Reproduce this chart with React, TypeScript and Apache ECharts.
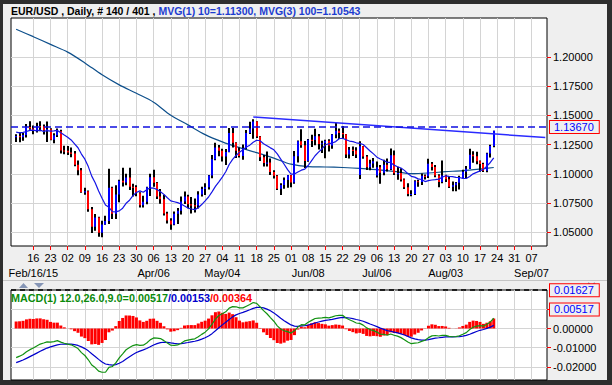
import React, { useEffect, useRef } from 'react';
import * as echarts from 'echarts';

const FONT = '"Liberation Sans", Arial, sans-serif';

// ---- axis labels ----
const weekTickLabels = ['16','23','02','09','16','23','30','06','13','20','27','04','11','18','25','01','08','15','22','29','06','13','20','27','03','10','17','24','31','07'];
const monthLabelWeeks = [0, 7, 11, 16, 20, 24, 29];
const monthLabelTexts = ['Feb/16/15','Apr/06','May/04','Jun/08','Jul/06','Aug/03','Sep/07'];
const priceTicks = [1.05, 1.075, 1.1, 1.125, 1.15, 1.175, 1.2];
const macdTicks = [-0.02, -0.01, 0, 0.01];

// ---- daily EUR/USD bars, Feb 09 → Aug 21 2015 ----
const opens = [
1.1316,1.1322,1.1313,1.1331,1.1400,1.1388,1.1366,1.1409,1.1407,1.1370,1.1381,1.1290,1.1330,1.1363,1.1200,
1.1197,1.1182,1.1174,1.1078,1.1030,1.0843,1.0851,1.0698,1.0548,1.0626,1.0496,1.0566,1.0596,1.0880,1.0659,1.0822,1.0940,1.0926,1.0969,1.0890,1.0887,1.0834,
1.0731,1.0761,1.0885,1.0970,1.0923,1.0805,1.0783,1.0660,1.0600,1.0567,1.0658,1.0685,1.0763,1.0807,1.0740,1.0731,1.0728,1.0824,1.0870,1.0886,1.0985,1.1125,
1.1224,1.1198,1.1147,1.1186,1.1348,1.1265,1.1198,1.1153,1.1218,1.1348,1.1387,1.1447,1.1318,1.1142,1.1092,1.1097,1.1015,1.0983,1.0873,1.0905,1.0947,
1.0987,1.0925,1.1150,1.1279,1.1244,1.1110,1.1290,1.1289,1.1320,1.1254,1.1262,1.1282,1.1242,1.1336,1.1369,1.1349,1.1337,1.1164,1.1205,1.1200,1.0990,1.1235,
1.1147,1.1056,1.1087,1.0985,1.1055,1.1008,1.1077,1.1038,1.1159,1.1004,1.1007,1.0952,1.0886,1.0827,1.0828,1.0937,1.0930,1.0983,1.0980,1.1086,1.1059,1.0985,1.0930,
1.0985,1.0954,1.0890,1.0902,1.0924,1.0967,1.1018,1.1043,1.1162,1.1151,1.1107,1.1084,1.1025,1.1174,1.1237];
const highs = [
1.1337,1.1356,1.1349,1.1425,1.1449,1.1412,1.1437,1.1449,1.1422,1.1448,1.1389,1.1346,1.1387,1.1376,1.1240,
1.1237,1.1225,1.1194,1.1114,1.1050,1.0880,1.0857,1.0717,1.0656,1.0632,1.0598,1.0641,1.1043,1.0889,1.0903,1.0949,1.1052,1.1000,1.1051,1.0916,1.0902,1.0842,
1.0812,1.0890,1.1000,1.1035,1.0930,1.0870,1.0820,1.0675,1.0620,1.0678,1.0707,1.0806,1.0849,1.0820,1.0801,1.0789,1.0850,1.0889,1.0920,1.0990,1.1160,1.1265,
1.1246,1.1214,1.1213,1.1391,1.1392,1.1269,1.1225,1.1250,1.1375,1.1445,1.1467,1.1450,1.1322,1.1160,1.1190,1.1131,1.1030,1.0990,1.0919,1.0968,1.0990,
1.0990,1.1195,1.1285,1.1380,1.1281,1.1297,1.1333,1.1385,1.1340,1.1283,1.1290,1.1295,1.1340,1.1436,1.1388,1.1408,1.1340,1.1228,1.1233,1.1226,1.1278,1.1237,
1.1160,1.1120,1.1134,1.1105,1.1076,1.1120,1.1130,1.1216,1.1200,1.1060,1.1048,1.0960,1.0920,1.0860,1.0945,1.0950,1.1003,1.0995,1.1129,1.1100,1.1075,1.0997,1.1114,
1.0991,1.0980,1.0935,1.0930,1.0983,1.1035,1.1067,1.1214,1.1192,1.1189,1.1114,1.1094,1.1179,1.1248,1.1367];
const lows = [
1.1271,1.1270,1.1282,1.1310,1.1376,1.1338,1.1354,1.1363,1.1336,1.1271,1.1287,1.1262,1.1314,1.1174,1.1168,
1.1161,1.1141,1.1065,1.0988,1.0839,1.0820,1.0675,1.0495,1.0513,1.0462,1.0457,1.0565,1.0571,1.0613,1.0613,1.0756,1.0892,1.0903,1.0861,1.0805,1.0809,1.0712,
1.0713,1.0740,1.0810,1.0890,1.0785,1.0745,1.0643,1.0575,1.0521,1.0560,1.0570,1.0653,1.0741,1.0706,1.0660,1.0670,1.0704,1.0806,1.0818,1.0865,1.0961,1.1116,
1.1150,1.1106,1.1075,1.1185,1.1225,1.1135,1.1139,1.1120,1.1210,1.1340,1.1300,1.1306,1.1110,1.1062,1.1063,1.0990,1.0960,1.0862,1.0818,1.0872,1.0880,
1.0886,1.0915,1.1096,1.1223,1.1049,1.1103,1.1230,1.1245,1.1208,1.1178,1.1133,1.1190,1.1215,1.1304,1.1297,1.1300,1.1134,1.1130,1.1152,1.1134,1.0955,1.1129,
1.1032,1.1030,1.1051,1.0968,1.0915,1.0988,1.1019,1.1032,1.0990,1.0950,1.0935,1.0870,1.0809,1.0808,1.0818,1.0890,1.0905,1.0951,1.0965,1.1029,1.0970,1.0886,1.0919,
1.0930,1.0878,1.0850,1.0850,1.0866,1.0962,1.0963,1.1040,1.1095,1.1081,1.1017,1.1016,1.1014,1.1140,1.1227];
const closes = [
1.1322,1.1313,1.1331,1.1400,1.1388,1.1366,1.1409,1.1407,1.1370,1.1381,1.1290,1.1330,1.1363,1.1200,1.1197,
1.1182,1.1174,1.1078,1.1030,1.0843,1.0851,1.0698,1.0548,1.0626,1.0496,1.0566,1.0596,1.0880,1.0659,1.0822,1.0940,1.0926,1.0969,1.0890,1.0887,1.0834,1.0731,
1.0761,1.0885,1.0970,1.0923,1.0805,1.0783,1.0660,1.0600,1.0567,1.0658,1.0685,1.0763,1.0807,1.0740,1.0731,1.0728,1.0824,1.0870,1.0886,1.0985,1.1125,1.1224,
1.1198,1.1147,1.1186,1.1348,1.1265,1.1198,1.1153,1.1218,1.1348,1.1387,1.1447,1.1318,1.1142,1.1092,1.1097,1.1015,1.0983,1.0873,1.0905,1.0947,1.0987,
1.0925,1.1150,1.1279,1.1244,1.1110,1.1290,1.1289,1.1320,1.1254,1.1262,1.1282,1.1242,1.1336,1.1369,1.1349,1.1337,1.1164,1.1205,1.1200,1.1165,1.1235,1.1147,
1.1056,1.1087,1.1107,1.1055,1.1008,1.1077,1.1038,1.1159,1.1004,1.1007,1.0952,1.0886,1.0827,1.0828,1.0937,1.0930,1.0983,1.0980,1.1086,1.1059,1.0985,1.0930,1.0985,
1.0954,1.0890,1.0902,1.0924,1.0967,1.1018,1.1043,1.1162,1.1151,1.1107,1.1084,1.1025,1.1174,1.1237,1.1367];
// closes of the 9 sessions before Feb 09 (for the 10-bar average)
const priorCloses = [1.1381,1.1287,1.1318,1.1290,1.1345,1.1477,1.1347,1.1478,1.1314];

// 100-bar average (bar index → value)
const ma100Idx = [1,6,11,16,21,26,31,36,41,46,51,56,61,66,71,76,81,86,91,96,101,106,111,116,121,126,131,136,140];
const ma100Val = [1.2235,1.2172,1.2106,1.2040,1.1948,1.1846,1.1760,1.1688,1.1612,1.1500,1.1418,1.1335,1.1273,1.1224,1.1181,1.1134,1.1082,1.1061,1.1058,1.1054,1.1047,1.1035,1.1020,1.1001,1.1007,1.1018,1.1027,1.1041,1.1054];

// drawn trend line (bar index → price)
const trendIdx = [70, 155];
const trendVal = [1.1485, 1.1310];

const lastPrice = 1.1367;
const macdMark = 0.01627;
const macdLast = 0.00517;
// EMA states on Feb 06
const seedEma12 = 1.1370;
const seedEma26 = 1.1530;
const seedSignal = -0.0185;

const N_CAT = 156;      // Feb 06 … Sep 11
const FIRST_BAR = 1;    // Feb 09
const FIRST_WEEK = 6;   // Feb 16

const headerText = '{k|EUR/USD , Daily, # 140 / 401 , }{b|MVG(1) 10=1.11300, MVG(3) 100=1.10543}';
const macdText = '{g|MACD(1) 12.0,26.0,9.0=0.00517}{b|/0.00153}{r|/0.00364}';

const P_MIN = 1.03829, P_MAX = 1.23316;
const M_MIN = -0.02692, M_MAX = 0.02013;
const HIST_SCALE = 1.4;

export default function App() {
  const ref = useRef<HTMLDivElement>(null);
  useEffect(() => {
    document.body.style.margin = '0';
    const chart = echarts.init(ref.current!, undefined, { renderer: 'svg' });

    const cats = Array.from({ length: N_CAT }, (_, i) => String(i));
    const isWeek = (i: number) => i >= FIRST_WEEK && (i - FIRST_WEEK) % 5 === 0 && (i - FIRST_WEEK) / 5 < weekTickLabels.length;
    const monthMap: Record<number, string> = {};
    monthLabelWeeks.forEach((w, k) => { monthMap[FIRST_WEEK + w * 5] = monthLabelTexts[k]; });

    const candles = closes.map((c, j) => [j + FIRST_BAR, opens[j], c, lows[j], highs[j]]);

    const allCloses = priorCloses.concat(closes);
    const ma10: (number | null)[] = new Array(N_CAT).fill(null);
    closes.forEach((_, j) => {
      const win = allCloses.slice(j, j + 10);
      ma10[j + FIRST_BAR] = win.reduce((a, b) => a + b, 0) / 10;
    });

    const macd: (number | null)[] = new Array(N_CAT).fill(null);
    const signal: (number | null)[] = new Array(N_CAT).fill(null);
    const hist: (number | null)[] = new Array(N_CAT).fill(null);
    let e12 = seedEma12, e26 = seedEma26, sg = seedSignal;
    closes.forEach((c, j) => {
      e12 += (c - e12) * 2 / 13;
      e26 += (c - e26) * 2 / 27;
      const m = e12 - e26;
      sg += (m - sg) * 0.2;
      macd[j + FIRST_BAR] = m;
      signal[j + FIRST_BAR] = sg;
      hist[j + FIRST_BAR] = m - sg;
    });

    const ma100 = ma100Idx.map((x, k) => [x, ma100Val[k]]);
    const trend = trendIdx.map((x, k) => [x, trendVal[k]]);

    const grid = '#d4d4d4';
    const boxLabel = (txt: string) => ({
      show: true, position: 'end', distance: 3, formatter: txt,
      color: '#0000ff', fontSize: 11, fontFamily: FONT,
      borderColor: '#ff0000', borderWidth: 1, backgroundColor: '#efefef',
      padding: [1, 5, 0, 4],
    });

    const option: any = {
      animation: false,
      backgroundColor: 'transparent',
      textStyle: { fontFamily: FONT },
      title: [
        { text: headerText, left: 11, top: 5, padding: 0,
          textStyle: { rich: { k: { color: '#000', fontSize: 10.5, fontFamily: FONT }, b: { color: '#1c3cd0', fontSize: 10.5, fontFamily: FONT } } } },
        { text: macdText, left: 11, top: 292, padding: 0,
          textStyle: { rich: { g: { color: '#0a8a0a', fontSize: 10.8, fontFamily: FONT }, b: { color: '#0000cc', fontSize: 10.8, fontFamily: FONT }, r: { color: '#ff0000', fontSize: 10.8, fontFamily: FONT } } } },
      ],
      graphic: [
        { type: 'rect', z: -20, silent: true, shape: { x: 0, y: 0, width: 612, height: 385 }, style: { fill: '#2e2e2e' } },
        { type: 'rect', z: -19, silent: true, shape: { x: 3, y: 4, width: 604, height: 376 }, style: { fill: '#efefef' } },
        { type: 'line', z: -18, silent: true, shape: { x1: 3, y1: 280.5, x2: 607, y2: 280.5 }, style: { stroke: '#c4c4c4', lineWidth: 1 } },
        { type: 'polygon', silent: true, shape: { points: [[19, 288], [28, 288], [23.5, 283]] }, style: { fill: '#8595b5' } },
        { type: 'polygon', silent: true, shape: { points: [[34, 283], [44, 283], [39, 288]] }, style: { fill: '#8595b5' } },
        { type: 'line', silent: true, shape: { x1: 588, y1: 283, x2: 595, y2: 289 }, style: { stroke: '#8595b5', lineWidth: 2 } },
        { type: 'line', silent: true, shape: { x1: 595, y1: 283, x2: 588, y2: 289 }, style: { stroke: '#8595b5', lineWidth: 2 } },
      ],
      grid: [
        { left: 11, right: 65, top: 18, bottom: 139, show: true, backgroundColor: '#fff', borderColor: '#000', borderWidth: 1 },
        { left: 11, right: 65, top: 290, bottom: 5, show: true, backgroundColor: '#fff', borderColor: '#000', borderWidth: 1 },
      ],
      xAxis: [
        {
          type: 'category', gridIndex: 0, data: cats, boundaryGap: true,
          axisLine: { show: false },
          axisTick: { show: true, interval: (i: number) => isWeek(i), alignWithLabel: true, length: 4, lineStyle: { color: '#ff0000' } },
          axisLabel: { interval: (i: number) => isWeek(i), formatter: (_v: string, i: number) => weekTickLabels[(i - FIRST_WEEK) / 5] ?? '', color: '#000', fontSize: 11, fontFamily: FONT, margin: 6 },
          splitLine: { show: true, interval: (i: number) => isWeek(i), alignWithLabel: true, lineStyle: { color: grid, width: 1 } },
        },
        {
          type: 'category', gridIndex: 0, data: cats, boundaryGap: true, position: 'bottom',
          axisLine: { show: false }, axisTick: { show: false }, splitLine: { show: false },
          axisLabel: { interval: (i: number) => monthMap[i] !== undefined, formatter: (_v: string, i: number) => monthMap[i] ?? '', color: '#000', fontSize: 11, fontFamily: FONT, margin: 21 },
        },
        {
          type: 'category', gridIndex: 1, data: cats, boundaryGap: true,
          axisLine: { show: false }, axisTick: { show: false }, axisLabel: { show: false },
          splitLine: { show: true, interval: (i: number) => isWeek(i), alignWithLabel: true, lineStyle: { color: grid, width: 1 } },
        },
      ],
      yAxis: [
        {
          type: 'value', gridIndex: 0, position: 'right', min: P_MIN, max: P_MAX, scale: true,
          axisLine: { show: false },
          axisTick: { show: true, customValues: priceTicks, length: 4, lineStyle: { color: '#ff0000' } },
          axisLabel: { customValues: priceTicks, formatter: (v: number) => v.toFixed(5), color: '#000', fontSize: 11, fontFamily: FONT, margin: 6 },
          splitLine: { show: true, lineStyle: { color: grid, width: 1 } },
        },
        {
          type: 'value', gridIndex: 1, position: 'right', min: M_MIN, max: M_MAX,
          axisLine: { show: false },
          axisTick: { show: true, customValues: macdTicks, length: 4, lineStyle: { color: '#ff0000' } },
          axisLabel: { customValues: macdTicks, formatter: (v: number) => v.toFixed(5), color: '#000', fontSize: 11, fontFamily: FONT, margin: 6 },
          splitLine: { show: true, lineStyle: { color: grid, width: 1 } },
        },
        {
          type: 'value', gridIndex: 1, show: false, min: M_MIN / HIST_SCALE, max: M_MAX / HIST_SCALE,
          splitLine: { show: false },
        },
      ],
      series: [
        {
          type: 'line', name: 'MA100', xAxisIndex: 0, yAxisIndex: 0, data: ma100, showSymbol: false, smooth: 0.3,
          lineStyle: { color: '#0d4f8b', width: 1.2 }, z: 2,
        },
        {
          type: 'custom', name: 'bars', xAxisIndex: 0, yAxisIndex: 0, data: candles, clip: true,
          encode: { x: 0, y: [1, 2, 3, 4] }, z: 3,
          renderItem: (_p: any, api: any) => {
            const i = api.value(0), o = api.value(1), c = api.value(2), l = api.value(3), h = api.value(4);
            const top = api.coord([i, h]);
            const bot = api.coord([i, l]);
            const po = api.coord([i, o]);
            const pc = api.coord([i, c]);
            const x = Math.round(top[0]);
            const y1 = Math.min(po[1], pc[1]);
            const bh = Math.max(1.2, Math.abs(po[1] - pc[1]));
            return {
              type: 'group',
              children: [
                { type: 'rect', shape: { x: x - 1, y: top[1], width: 2, height: bot[1] - top[1] }, style: { fill: '#000' } },
                { type: 'rect', shape: { x: x - 1, y: y1, width: 2, height: bh }, style: { fill: c >= o ? '#0000ff' : '#ff0000' } },
              ],
            };
          },
        },
        {
          type: 'line', name: 'MA10', xAxisIndex: 0, yAxisIndex: 0, data: ma10, showSymbol: false,
          lineStyle: { color: '#1414e6', width: 1.2 }, z: 4,
        },
        {
          type: 'line', name: 'trend', xAxisIndex: 0, yAxisIndex: 0, data: trend, showSymbol: false,
          lineStyle: { color: '#2a2aff', width: 1.5 }, z: 4,
          markLine: {
            silent: true, symbol: ['none', 'none'], animation: false,
            lineStyle: { color: '#1010e0', type: [7, 4], width: 1.5 },
            label: boxLabel(lastPrice.toFixed(5)),
            data: [{ yAxis: lastPrice }],
          },
        },
        {
          type: 'bar', name: 'hist', xAxisIndex: 2, yAxisIndex: 2, data: hist, barWidth: 3,
          itemStyle: { color: '#ff0000' }, z: 2,
        },
        {
          type: 'line', name: 'signal', xAxisIndex: 2, yAxisIndex: 1, data: signal, showSymbol: false,
          lineStyle: { color: '#0000cc', width: 1.2 }, z: 3,
        },
        {
          type: 'line', name: 'macd', xAxisIndex: 2, yAxisIndex: 1, data: macd, showSymbol: false,
          lineStyle: { color: '#129212', width: 1.2 }, z: 4,
          markLine: {
            silent: true, symbol: ['none', 'none'], animation: false,
            data: [
              { yAxis: macdMark, lineStyle: { color: '#000', type: [5, 4], width: 1.5 }, label: boxLabel(macdMark.toFixed(5)) },
              { yAxis: macdLast, lineStyle: { color: 'rgba(0,0,0,0)', width: 1 }, label: boxLabel(macdLast.toFixed(5)) },
            ],
          },
        },
      ],
    };
    chart.setOption(option);
    return () => chart.dispose();
  }, []);
  return <div ref={ref} style={{ width: 612, height: 385 }} />;
}
